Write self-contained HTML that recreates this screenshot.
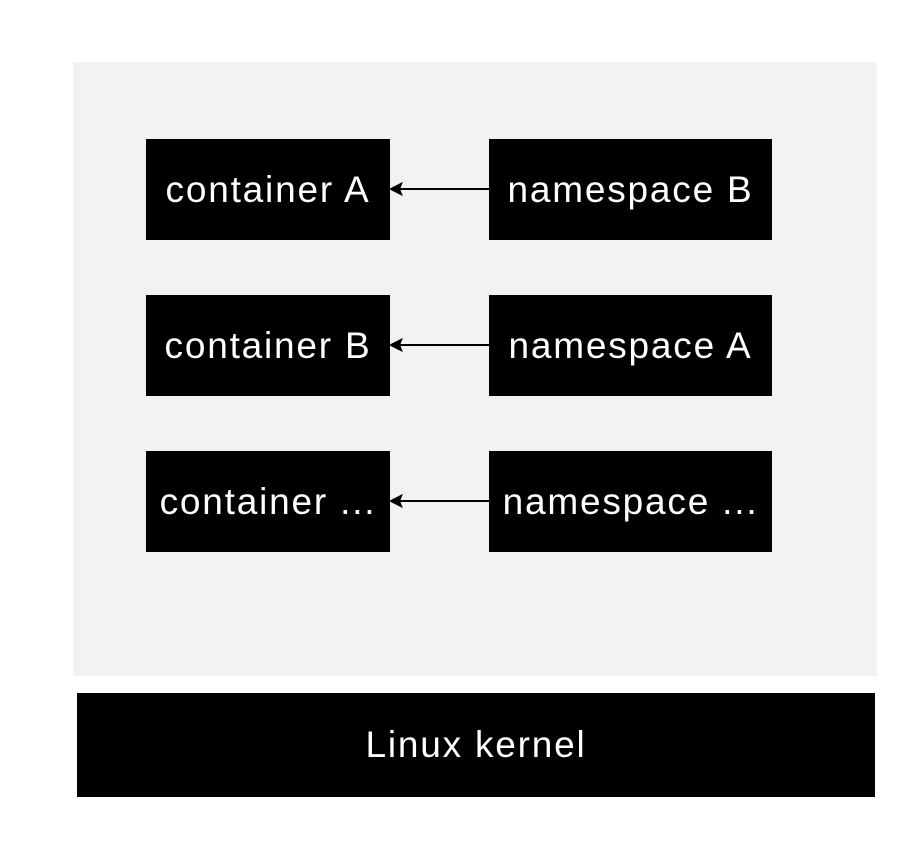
<!DOCTYPE html>
<html><head><style>
html,body{margin:0;padding:0;background:#fff;}
body{width:916px;height:844px;position:relative;overflow:hidden;font-family:"Liberation Sans",sans-serif;}
.panel{position:absolute;left:73px;top:62px;width:804px;height:614px;background:#f2f2f2;}
.b{position:absolute;background:#000;color:#fff;display:flex;align-items:center;justify-content:center;font-size:37px;letter-spacing:1.8px;white-space:nowrap;}
.c{left:146px;width:244px;height:101px;}
.n{left:489px;width:283px;height:101px;}
svg{position:absolute;left:0;top:0;}
</style></head><body>
<div class="panel"></div>
<div class="b c" style="top:139px">container A</div>
<div class="b n" style="top:139px">namespace B</div>
<div class="b c" style="top:295px">container B</div>
<div class="b n" style="top:295px">namespace A</div>
<div class="b c" style="top:451px">container ...</div>
<div class="b n" style="top:451px">namespace ...</div>
<svg width="916" height="844">
<g stroke="#000" stroke-width="2" fill="#000">
<line x1="489" y1="189" x2="398" y2="189"/><polygon points="391,189 401,184 399,189 401,194"/>
<line x1="489" y1="345" x2="398" y2="345"/><polygon points="391,345 401,340 399,345 401,350"/>
<line x1="489" y1="501" x2="398" y2="501"/><polygon points="391,501 401,496 399,501 401,506"/>
</g></svg>
<div class="b" style="left:77px;top:693px;width:798px;height:104px;">Linux kernel</div>
</body></html>
